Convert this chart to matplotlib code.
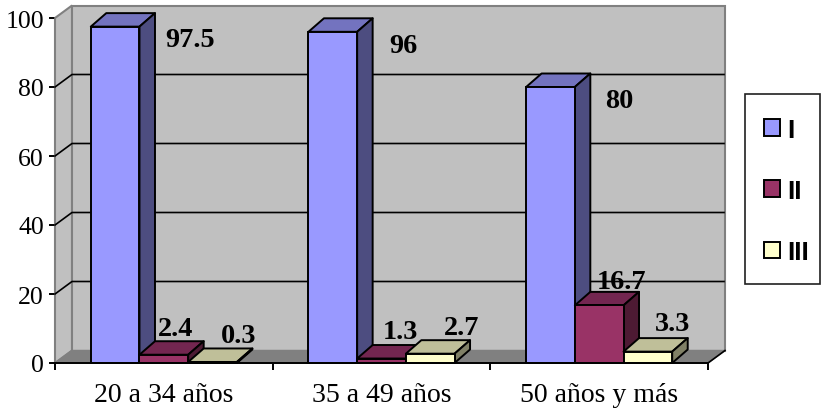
import matplotlib
matplotlib.use("Agg")
import matplotlib.pyplot as plt
from matplotlib.patches import Polygon, Patch, Rectangle

categories = ["20 a 34 años", "35 a 49 años", "50 años y más"]
series_names = ["I", "II", "III"]
serie_I = [97.5, 96, 80]
serie_II = [2.4, 1.3, 16.7]
serie_III = [0.3, 2.7, 3.3]
label_I = ["97.5", "96", "80"]
label_II = ["2.4", "1.3", "16.7"]
label_III = ["0.3", "2.7", "3.3"]
y_ticks = [0, 20, 40, 60, 80, 100]

W, H = 821, 410
L, R, B, T = 55, 708, 364, 19
PX = 3 / (R - L)          # data x per pixel
PY = 100 / (B - T)        # data y per pixel
wall_dx, wall_dy = 17 * PX, 12.5 * PY
bar_dx, bar_dy = 15.5 * PX, 13.5 * PY
bar_w = 48.7 * PX

colors = {"I": ("#9999FF", "#7373BF", "#4D4D80"),
          "II": ("#993366", "#732650", "#4D1A33"),
          "III": ("#FFFFCC", "#BFBF99", "#808066")}
# label centre offsets in pixels from bar front-top centre
offs = {"I": [(75, -13), (71, -14), (69, -14)],
        "II": [(12, 26), (19, 27), (22, 24)],
        "III": [(26, 26), (31, 26), (25, 28)]}

fig = plt.figure(figsize=(W / 100, H / 100), dpi=100, facecolor="white")
ax = fig.add_axes([L / W, (H - B) / H, (R - L) / W, (B - T) / H])
ax.set_xlim(0, 3)
ax.set_ylim(0, 100)
ax.patch.set_visible(False)
for s in ("top", "right"):
    ax.spines[s].set_visible(False)
ax.spines["left"].set_color("#808080")
ax.spines["left"].set_linewidth(1.2)
ax.spines["bottom"].set_color("black")
ax.spines["bottom"].set_linewidth(1.4)
ax.spines["bottom"].set_zorder(20)

GRAY = "#C0C0C0"
EDGE = "#808080"
ax.add_patch(Polygon([(0, 0), (wall_dx, wall_dy), (wall_dx, 100 + wall_dy), (0, 100)],
                     fc=GRAY, ec=EDGE, lw=1.5, clip_on=False, zorder=1))
ax.add_patch(Polygon([(wall_dx, wall_dy), (3 + wall_dx, wall_dy), (3 + wall_dx, 100 + wall_dy), (wall_dx, 100 + wall_dy)],
                     fc=GRAY, ec=EDGE, lw=1.5, clip_on=False, zorder=1))
ax.add_patch(Polygon([(0, 0), (wall_dx, wall_dy), (3 + wall_dx, wall_dy), (3, 0)],
                     fc=EDGE, ec=EDGE, lw=1, clip_on=False, zorder=2))
ax.plot([3, 3 + wall_dx], [0, wall_dy], color="black", lw=1.2, clip_on=False, zorder=3)
for v in y_ticks[1:-1]:
    ax.plot([0, wall_dx, 3 + wall_dx - 1 * PX], [v, v + wall_dy, v + wall_dy],
            color="black", lw=1.2, clip_on=False, zorder=3)

z = 5
for k, (name, vals, labs) in enumerate(zip(series_names,
                                           [serie_I, serie_II, serie_III],
                                           [label_I, label_II, label_III])):
    front, top, side = colors[name]
    for i, v in enumerate(vals):
        x0 = i + 0.5 - 1.5 * bar_w + k * bar_w
        x1 = x0 + bar_w
        ax.add_patch(Polygon([(x0, v), (x1, v), (x1 + bar_dx, v + bar_dy), (x0 + bar_dx, v + bar_dy)],
                             fc=top, ec="black", lw=1.4, clip_on=False, zorder=z, joinstyle="round"))
        ax.add_patch(Polygon([(x1, 0), (x1 + bar_dx, bar_dy), (x1 + bar_dx, v + bar_dy), (x1, v)],
                             fc=side, ec="black", lw=1.4, clip_on=False, zorder=z, joinstyle="round"))
        ax.bar(x0, v, width=bar_w, align="edge", color=front, edgecolor="black",
               linewidth=1.4, zorder=z + 0.1, clip_on=False)
        z += 1

for k, (name, vals, labs) in enumerate(zip(series_names,
                                           [serie_I, serie_II, serie_III],
                                           [label_I, label_II, label_III])):
    for i, v in enumerate(vals):
        xc = i + 0.5 - bar_w + k * bar_w
        ax.annotate(labs[i], (xc, v), xytext=(offs[name][i][0] * 0.72, offs[name][i][1] * 0.72),
                    textcoords="offset points", ha="center", va="center",
                    family="Liberation Serif", weight="bold", fontsize=20.3,
                    color="black", zorder=60, annotation_clip=False)

ax.set_yticks(y_ticks)
ax.set_yticklabels([str(v) for v in y_ticks], family="Liberation Serif", fontsize=18.5)
ax.tick_params(axis="y", length=4.5, width=1.4, color="black", pad=3.5)
ax.set_xticks([0, 1, 2, 3])
ax.set_xticklabels([])
ax.tick_params(axis="x", which="major", length=5, width=1.4, color="black")
ax.set_xticks([0.5, 1.5, 2.5], minor=True)
ax.set_xticklabels(categories, minor=True, family="Liberation Serif", fontsize=20)
ax.tick_params(axis="x", which="minor", length=0, pad=14)

fig.add_artist(Rectangle((745 / W, (H - 285) / H), 75 / W, 190 / H, transform=fig.transFigure,
                         fc="white", ec="#202020", lw=1.2))
handles = [Patch(fc=colors[n][0], ec="black", lw=1.4) for n in series_names]
leg = fig.legend(handles, series_names, loc="center left",
                 bbox_to_anchor=(764 / W, (H - 192) / H), frameon=False,
                 prop={"family": "Liberation Sans", "weight": "bold", "size": 19},
                 handlelength=0.6, handleheight=0.6, handletextpad=0.28,
                 labelspacing=1.41, borderpad=0, borderaxespad=0)
fig.savefig("out.png", dpi=100)
